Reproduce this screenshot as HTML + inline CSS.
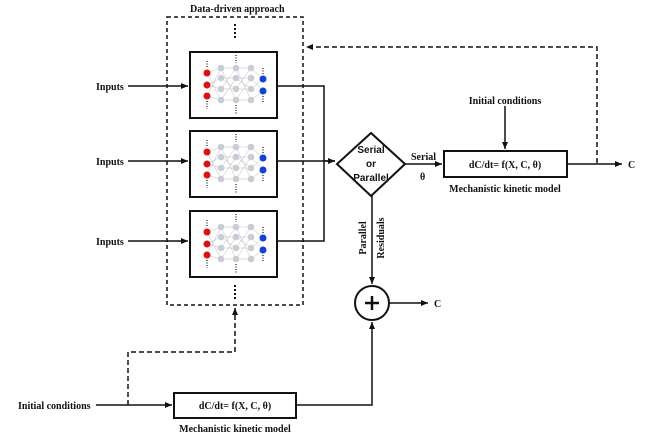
<!DOCTYPE html>
<html><head><meta charset="utf-8"><style>
body{margin:0;background:#fff}
text{font-family:"Liberation Serif",serif;font-weight:bold;font-size:10px;fill:#111}
</style></head><body>
<svg width="650" height="439" viewBox="0 0 650 439" xmlns="http://www.w3.org/2000/svg">
<defs>
<marker id="a" markerWidth="8" markerHeight="8" refX="7" refY="4" orient="auto" markerUnits="userSpaceOnUse"><path d="M0,1 L7,4 L0,7z" fill="#111"/></marker>
<g id="nn">
<rect x="0" y="0" width="87" height="66" fill="#fff" stroke="#111" stroke-width="2"/>
<g stroke="#bbb" stroke-width="0.5">
<path d="M17,21L31,16M17,21L31,48M17,33L31,26M17,33L31,37M17,44L31,16M17,44L31,48M31,16L46,48M31,26L46,37M31,37L46,16M31,48L46,26M46,16L61,48M46,26L61,37M46,37L61,16M46,48L61,26M61,16L73,27M61,48L73,39M61,26L73,39M61,37L73,27M31,16H61M31,26H61M31,37H61M31,48H61"/>
</g>
<g fill="#c8ccd4"><circle cx="31" cy="16" r="3.3"/><circle cx="31" cy="26" r="3.3"/><circle cx="31" cy="37" r="3.3"/><circle cx="31" cy="48" r="3.3"/>
<circle cx="46" cy="16" r="3.3"/><circle cx="46" cy="26" r="3.3"/><circle cx="46" cy="37" r="3.3"/><circle cx="46" cy="48" r="3.3"/>
<circle cx="61" cy="16" r="3.3"/><circle cx="61" cy="26" r="3.3"/><circle cx="61" cy="37" r="3.3"/><circle cx="61" cy="48" r="3.3"/></g>
<g fill="#e01010"><circle cx="17" cy="21" r="3.5"/><circle cx="17" cy="33" r="3.5"/><circle cx="17" cy="44" r="3.5"/></g>
<g fill="#1040e0"><circle cx="73" cy="27" r="3.5"/><circle cx="73" cy="39" r="3.5"/></g>
<g stroke="#111" stroke-width="1.2" stroke-dasharray="1,1.5"><path d="M17,9V16M17,49V57M46,3V11M46,53V62M73,16V23M73,44V51"/></g>
</g>
</defs>
<g fill="none" stroke="#111" stroke-width="1.5">
<rect x="167" y="17" width="136" height="288" stroke-dasharray="4,3"/>
</g>
<text x="190" y="12">Data-driven approach</text>
<g stroke="#111" stroke-width="2" stroke-dasharray="2,2"><path d="M235,24V38M235,285V300"/></g>
<use href="#nn" x="190" y="52"/>
<use href="#nn" x="190" y="131"/>
<use href="#nn" x="190" y="211"/>
<g fill="none" stroke="#111" stroke-width="1.5">
<path d="M128,86H188" marker-end="url(#a)"/>
<path d="M128,161H188" marker-end="url(#a)"/>
<path d="M128,241H188" marker-end="url(#a)"/>
<path d="M277,86H324V241H277M277,161H335" />
<path d="M324,161H335" marker-end="url(#a)"/>
<path d="M371,133L405,164L371,196L337,164Z" stroke-width="2"/>
<path d="M405,164H442" marker-end="url(#a)"/>
<rect x="444" y="151" width="123" height="26" stroke-width="2"/>
<path d="M505,106V149" marker-end="url(#a)"/>
<path d="M567,164H622" marker-end="url(#a)"/>
<path d="M597,163V47H306" stroke-dasharray="5,3" marker-end="url(#a)"/>
<path d="M372,196V284" marker-end="url(#a)"/>
<circle cx="372" cy="303" r="17" stroke-width="2"/>
<path d="M389,303H428" marker-end="url(#a)"/>
<path d="M96,405H172" marker-end="url(#a)"/>
<rect x="174" y="393" width="122" height="25" stroke-width="2"/>
<path d="M296,405H372V322" marker-end="url(#a)"/>
<path d="M128,405V352H235V308" stroke-dasharray="5,3" marker-end="url(#a)"/>
</g>
<path d="M372,296V310M365,303H379" stroke="#111" stroke-width="2.5"/>
<text x="96" y="90">Inputs</text>
<text x="96" y="165">Inputs</text>
<text x="96" y="245">Inputs</text>
<text x="371" y="153" text-anchor="middle" style="font-family:'Liberation Sans',sans-serif">Serial</text>
<text x="371" y="167" text-anchor="middle" style="font-family:'Liberation Sans',sans-serif">or</text>
<text x="371" y="181" text-anchor="middle" style="font-family:'Liberation Sans',sans-serif">Parallel</text>
<text x="411" y="160">Serial</text>
<text x="420" y="180">θ</text>
<text x="505" y="168" text-anchor="middle">dC/dt= f(X, C, θ)</text>
<text x="505" y="192" text-anchor="middle">Mechanistic kinetic model</text>
<text x="505" y="104" text-anchor="middle">Initial conditions</text>
<text x="628" y="168">C</text>
<text x="434" y="307">C</text>
<text transform="translate(366,238) rotate(-90)" text-anchor="middle">Parallel</text>
<text transform="translate(384,238) rotate(-90)" text-anchor="middle">Residuals</text>
<text x="18" y="409">Initial conditions</text>
<text x="235" y="409" text-anchor="middle">dC/dt= f(X, C, θ)</text>
<text x="235" y="432" text-anchor="middle">Mechanistic kinetic model</text>
</svg>
</body></html>
